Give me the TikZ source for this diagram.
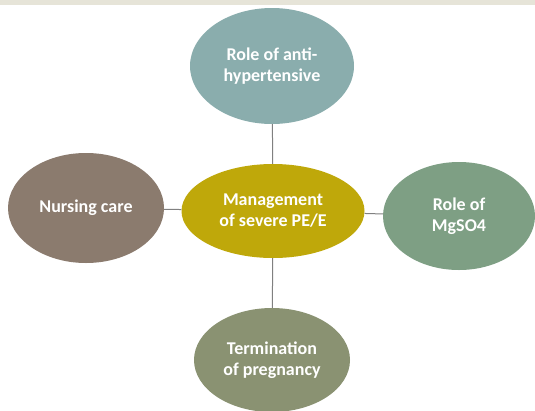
\documentclass[tikz,border=0pt]{standalone}
\usepackage{fontspec}
\setmainfont{Carlito}
\usetikzlibrary{shapes.geometric}
\definecolor{topband}{HTML}{E6E4D8}
\definecolor{antihyp}{HTML}{8AADAD}
\definecolor{mgmt}{HTML}{BFA80A}
\definecolor{mgso}{HTML}{7E9F84}
\definecolor{nursing}{HTML}{8B7B6E}
\definecolor{termin}{HTML}{8A9272}
\definecolor{link}{HTML}{808080}
\tikzset{
  bubble/.style={ellipse, inner sep=0pt, text=white, align=center,
    font=\fontsize{18}{21}\selectfont\bfseries},
  link/.style={draw=link, line width=1pt}
}

\begin{document}
\begin{tikzpicture}[x=1pt, y=-1pt]
\useasboundingbox (0,0) rectangle (535,410);
\fill[topband] (0,0) rectangle (535,4.5);
\node[bubble, fill=antihyp, minimum width=164pt, minimum height=116pt] (anti) at (272,66) {Role of anti-\\hypertensive};
\node[bubble, fill=mgmt, minimum width=183pt, minimum height=94pt] (mgmt) at (273,211) {Management\\of severe PE/E};
\node[bubble, fill=mgso, minimum width=152pt, minimum height=108pt] (mgso) at (459,216) {Role of\\MgSO4};
\node[bubble, fill=nursing, minimum width=156pt, minimum height=110pt] (nurse) at (86,208) {Nursing care};
\node[bubble, fill=termin, minimum width=156pt, minimum height=104pt] (term) at (272,360) {Termination\\of pregnancy};
\draw[link] (anti) -- (mgmt);
\draw[link] (nurse) -- (mgmt);
\draw[link] (mgmt) -- (mgso);
\draw[link] (mgmt) -- (term);
\end{tikzpicture}
\end{document}
